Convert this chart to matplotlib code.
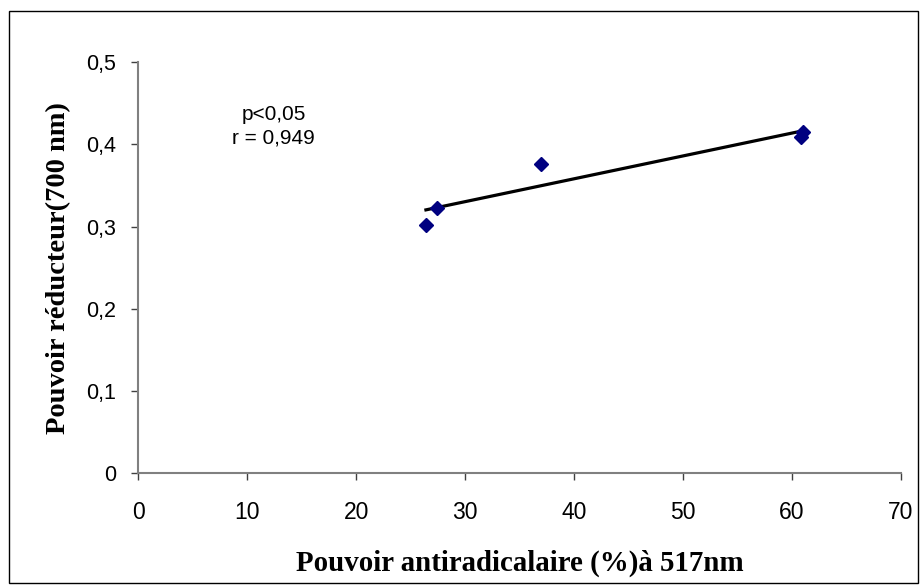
import numpy as np
import matplotlib
matplotlib.use('Agg')
import matplotlib.pyplot as plt
from matplotlib.patches import Rectangle
from matplotlib.ticker import FuncFormatter

# Données
antiradicalaire = [26.4, 27.4, 37.0, 61.0, 60.8]
reducteur = [0.302, 0.323, 0.376, 0.415, 0.409]
xticks = [0, 10, 20, 30, 40, 50, 60, 70]
yticks = [0, 0.1, 0.2, 0.3, 0.4, 0.5]

fig = plt.figure(figsize=(9.21, 5.87), dpi=100)
ax = fig.add_axes([0.1503, 0.1937, 0.8277, 0.7007])

ax.plot(antiradicalaire, reducteur, linestyle='none', marker='D',
        markersize=7, color='#000080', zorder=3)

# droite de régression
pente, ordonnee = np.polyfit(antiradicalaire, reducteur, 1)
xs = np.array([min(antiradicalaire), max(antiradicalaire)])
ax.plot(xs, pente * xs + ordonnee, color='black', linewidth=2.3, zorder=2)

ax.set_xlim(0, 70)
ax.set_ylim(0, 0.5)
ax.set_xticks(xticks)
ax.set_yticks(yticks)
ax.yaxis.set_major_formatter(FuncFormatter(lambda v, p: ('%g' % v).replace('.', ',')))

for s in ['top', 'right']:
    ax.spines[s].set_visible(False)
for s in ['left', 'bottom']:
    ax.spines[s].set_color('#808080')
    ax.spines[s].set_linewidth(1.5)
ax.tick_params(direction='out', length=5, width=1, color='#404040')
ax.tick_params(axis='x', labelsize=16.5, pad=15)
ax.tick_params(axis='y', labelsize=15.5, pad=11)
for lab in ax.get_xticklabels() + ax.get_yticklabels():
    lab.set_family('Liberation Sans')

ax.set_xlabel('Pouvoir antiradicalaire (%)à 517nm', family='Liberation Serif',
              fontweight='bold', fontsize=20.8, va='center')
ax.xaxis.set_label_coords(0.5, -0.218)
ax.set_ylabel('Pouvoir réducteur(700 nm)', family='Liberation Serif',
              fontweight='bold', fontsize=20.5, va='center')
ax.yaxis.set_label_coords(-0.105, 0.5)

ax.text(12.4, 0.422, 'p<0,05\nr = 0,949', ha='center', va='center',
        family='Liberation Sans', fontsize=15, linespacing=1.35)

fig.patches.append(Rectangle((9 / 921, 4 / 587), 909 / 921, 572 / 587,
                             transform=fig.transFigure, fill=False,
                             edgecolor='black', linewidth=1))

plt.savefig('out.png', dpi=100)
